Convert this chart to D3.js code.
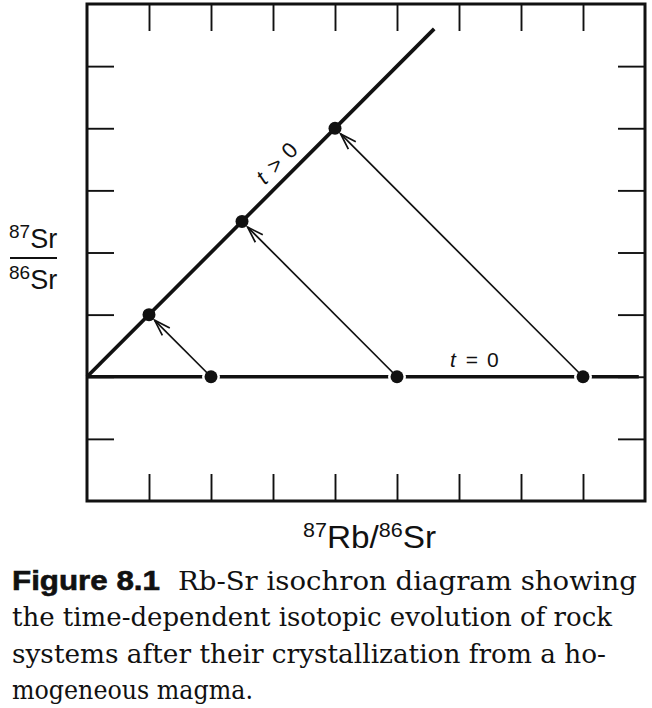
<!DOCTYPE html>
<html>
<head>
<meta charset="utf-8">
<script src="https://cdn.jsdelivr.net/npm/d3@7"></script>
<style>
  html, body { margin: 0; padding: 0; background: #fff; }
  svg { display: block; }
</style>
</head>
<body>
<svg id="fig" width="652" height="708"></svg>
<script>
// Rb-Sr isochron diagram: magma samples at t = 0 and after time t
const xTickValues = [1, 2, 3, 4, 5, 6, 7, 8];
const yTickValues = [1, 2, 3, 4, 5, 6, 7];
const initialSr = 2;                 // common 87Sr/86Sr of the magma
const initialRb = [2, 5, 8];         // 87Rb/86Sr of each system at t = 0
const laterRb = [1, 2.5, 4];         // 87Rb/86Sr after time t
const laterSr = [3, 4.5, 6];         // 87Sr/86Sr after time t
const flatLineEnd = 8.9;             // extent of the t = 0 line
const isochronEnd = [5.6, 7.6];      // extent of the t > 0 isochron
const captionLines = [
  "the time-dependent isotopic evolution of rock",
  "systems after their crystallization from a ho-",
  "mogeneous magma."
];

const svg = d3.select("#fig");
const x = d3.scaleLinear().domain([0, 9]).range([87, 645]);
const y = d3.scaleLinear().domain([0, 8]).range([501, 4]);
const ink = "#111";

// inward ticks on all four sides
const tickLen = 27;
function ticks(axis, tx, ty) {
  const g = svg.append("g").attr("transform", `translate(${tx},${ty})`)
    .call(axis.tickSizeInner(-tickLen).tickSizeOuter(0).tickFormat(""));
  g.select(".domain").remove();
  g.selectAll(".tick line").attr("stroke", ink).attr("stroke-width", 1.9);
}
ticks(d3.axisBottom(x).tickValues(xTickValues), 0, y(0));
ticks(d3.axisTop(x).tickValues(xTickValues), 0, y(8));
ticks(d3.axisLeft(y).tickValues(yTickValues), x(0), 0);
ticks(d3.axisRight(y).tickValues(yTickValues), x(9), 0);

// frame
svg.append("rect")
  .attr("x", x(0)).attr("y", y(8))
  .attr("width", x(9) - x(0)).attr("height", y(0) - y(8))
  .attr("fill", "none").attr("stroke", ink).attr("stroke-width", 3);

// t = 0 line (horizontal) and t > 0 isochron
svg.append("line")
  .attr("x1", x(0)).attr("y1", y(initialSr))
  .attr("x2", x(flatLineEnd)).attr("y2", y(initialSr))
  .attr("stroke", ink).attr("stroke-width", 3.5);
svg.append("line")
  .attr("x1", x(0)).attr("y1", y(initialSr))
  .attr("x2", x(isochronEnd[0])).attr("y2", y(isochronEnd[1]))
  .attr("stroke", ink).attr("stroke-width", 3.7);

// white gaps in the t = 0 line around each starting point
const r = 6.5;
svg.selectAll("circle.gap").data(initialRb).join("circle")
  .attr("class", "gap")
  .attr("cx", d => x(d)).attr("cy", y(initialSr)).attr("r", r + 2.5)
  .attr("fill", "#fff");

// evolution arrows with open heads
initialRb.forEach((rb, i) => {
  const x0 = x(rb), y0 = y(initialSr), x1 = x(laterRb[i]), y1 = y(laterSr[i]);
  const a = Math.atan2(y1 - y0, x1 - x0);
  const tipX = x1 - Math.cos(a) * (r + 1.5), tipY = y1 - Math.sin(a) * (r + 1.5);
  svg.append("line")
    .attr("x1", x0).attr("y1", y0).attr("x2", tipX).attr("y2", tipY)
    .attr("stroke", ink).attr("stroke-width", 1.7);
  const hl = 17, spread = 18 * Math.PI / 180;
  const pts = [
    [tipX - hl * Math.cos(a - spread), tipY - hl * Math.sin(a - spread)],
    [tipX, tipY],
    [tipX - hl * Math.cos(a + spread), tipY - hl * Math.sin(a + spread)]
  ];
  svg.append("path").attr("d", d3.line()(pts))
    .attr("fill", "none").attr("stroke", ink).attr("stroke-width", 1.7)
    .attr("stroke-linejoin", "miter");
});

// sample points
svg.selectAll("circle.initial").data(initialRb).join("circle")
  .attr("class", "initial")
  .attr("cx", d => x(d)).attr("cy", y(initialSr)).attr("r", r)
  .attr("fill", ink);
svg.selectAll("circle.later").data(laterRb).join("circle")
  .attr("class", "later")
  .attr("cx", d => x(d)).attr("cy", (d, i) => y(laterSr[i])).attr("r", r)
  .attr("fill", ink);

const sans = "'Liberation Sans', Arial, Helvetica, sans-serif";

// t = 0 label
const t0 = svg.append("text")
  .attr("x", 450).attr("y", 367)
  .attr("font-family", sans).attr("font-size", 21).attr("fill", ink);
t0.append("tspan").attr("font-style", "italic").text("t");
t0.append("tspan").attr("dx", 10).text("=");
t0.append("tspan").attr("dx", 9).text("0");

// t > 0 label along the isochron
const along = 3.25;
const px = x(along), py = y(initialSr + along);
const off = 9;
const lx = px - off / Math.SQRT2, ly = py - off / Math.SQRT2;
const tg = svg.append("text")
  .attr("transform", `translate(${lx},${ly}) rotate(-45)`)
  .attr("text-anchor", "middle")
  .attr("font-family", sans).attr("font-size", 22).attr("fill", ink);
tg.append("tspan").attr("font-style", "italic").text("t");
tg.append("tspan").attr("dx", 9).text(">");
tg.append("tspan").attr("dx", 8).text("0");

// axis labels
function isotope(mass, sym, xPos, yPos, big, small) {
  const t = svg.append("text").attr("x", xPos).attr("y", yPos)
    .attr("font-family", sans).attr("fill", ink);
  t.append("tspan").attr("font-size", small).attr("dy", -big * 0.36).text(mass);
  t.append("tspan").attr("font-size", big).attr("dy", big * 0.36).text(sym);
  return t;
}
// y: 87Sr / 86Sr as a fraction
isotope("87", "Sr", 9, 248, 27, 19);
svg.append("line").attr("x1", 10).attr("x2", 57).attr("y1", 258).attr("y2", 258)
  .attr("stroke", ink).attr("stroke-width", 2);
isotope("86", "Sr", 9, 289, 27, 19);

// x: 87Rb/86Sr
const xl = svg.append("text").attr("x", 303).attr("y", 548)
  .attr("font-family", sans).attr("fill", ink)
  .attr("textLength", 133).attr("lengthAdjust", "spacingAndGlyphs");
xl.append("tspan").attr("font-size", 20).attr("dy", -11).text("87");
xl.append("tspan").attr("font-size", 31).attr("dy", 11).text("Rb/");
xl.append("tspan").attr("font-size", 20).attr("dy", -11).text("86");
xl.append("tspan").attr("font-size", 31).attr("dy", 11).text("Sr");

// caption
const serif = "'DejaVu Serif', 'Liberation Serif', serif";
const capX = 12, base = 590, lead = 36.3, fs = 26.5;
svg.append("text").attr("x", capX).attr("y", base)
  .attr("font-family", sans).attr("font-weight", 900).attr("font-size", 27)
  .attr("fill", ink).attr("stroke", ink).attr("stroke-width", 0.6)
  .attr("textLength", 148).attr("lengthAdjust", "spacingAndGlyphs")
  .text("Figure 8.1");
svg.append("text").attr("x", 178).attr("y", base)
  .attr("font-family", serif).attr("font-size", fs).attr("fill", ink)
  .attr("textLength", 459).attr("lengthAdjust", "spacingAndGlyphs")
  .text("Rb-Sr isochron diagram showing");
const widths = [600, 594, 241];
captionLines.forEach((s, i) => {
  svg.append("text").attr("x", capX).attr("y", base + lead * (i + 1))
    .attr("font-family", serif).attr("font-size", fs).attr("fill", ink)
    .attr("textLength", widths[i]).attr("lengthAdjust", "spacingAndGlyphs")
    .text(s);
});
</script>
</body>
</html>
